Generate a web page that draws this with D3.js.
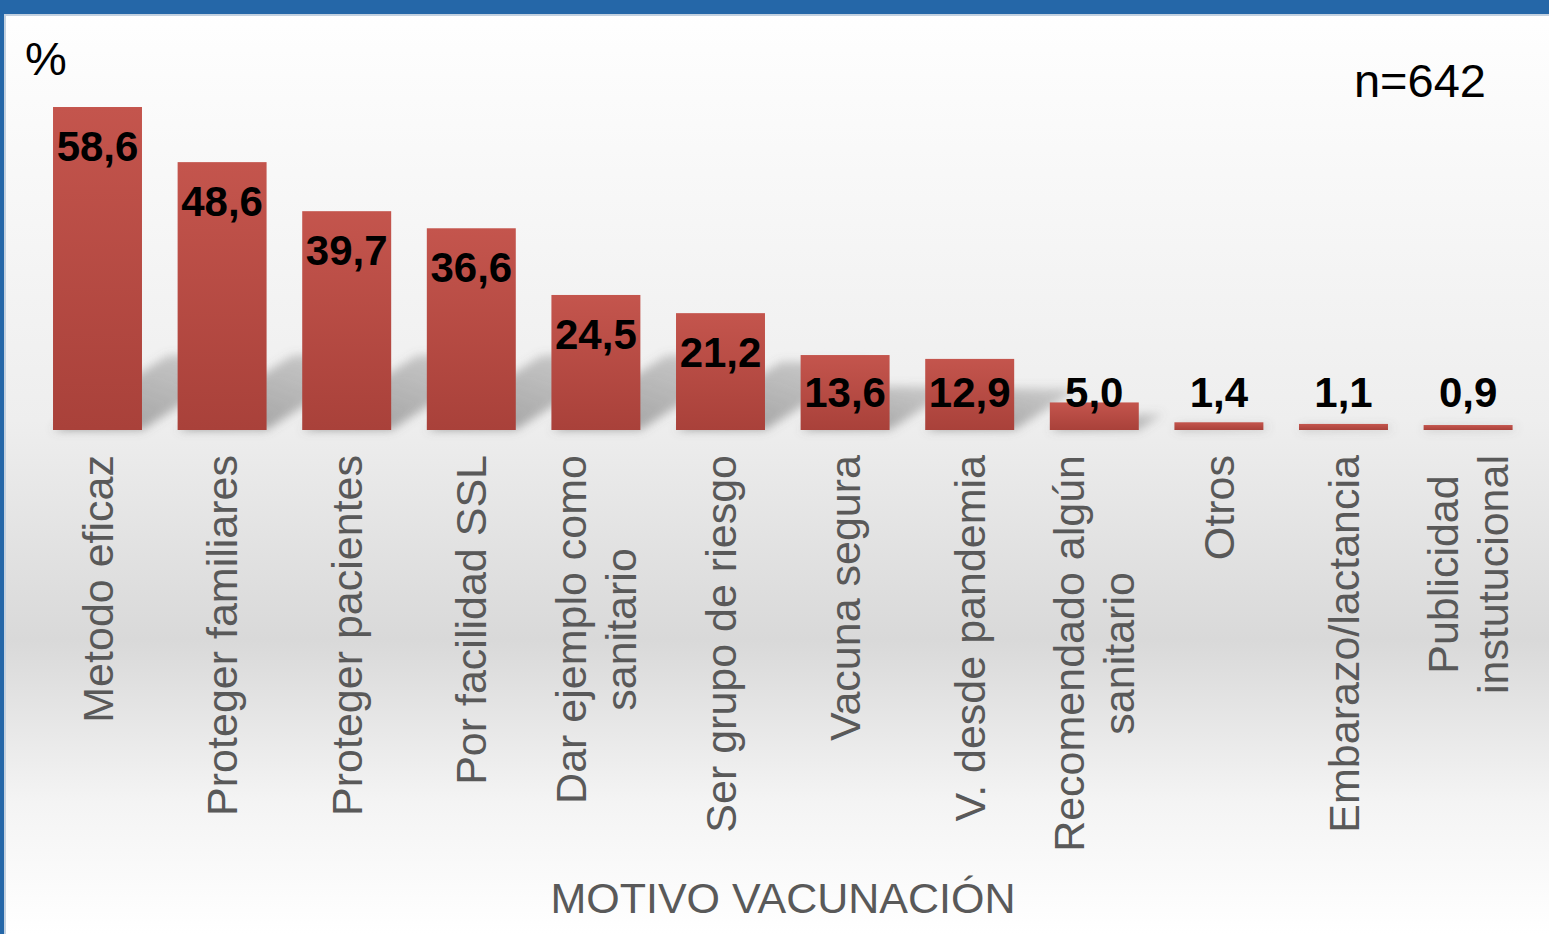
<!DOCTYPE html>
<html>
<head>
<meta charset="utf-8">
<script src="https://cdn.jsdelivr.net/npm/d3@7"></script>
<style>
  html, body { margin: 0; padding: 0; background: #fff; }
  svg { display: block; font-family: "Liberation Sans", Arial, sans-serif; }
</style>
</head>
<body>
<div id="chart"></div>
<script>
"use strict";
// motivos de vacunacion (n=642), % de respuestas
var categories = [
  "Metodo eficaz",
  "Proteger familiares",
  "Proteger pacientes",
  "Por facilidad SSL",
  "Dar ejemplo como\nsanitario",
  "Ser grupo de riesgo",
  "Vacuna segura",
  "V. desde pandemia",
  "Recomendado algún\nsanitario",
  "Otros",
  "Embarazo/lactancia",
  "Publicidad\ninstutucional"
];
var values = [58.6, 48.6, 39.7, 36.6, 24.5, 21.2, 13.6, 12.9, 5.0, 1.4, 1.1, 0.9];
var yTicks = [0, 60];
var axisTitle = "MOTIVO VACUNACIÓN";
var unitLabel = "%";
var sampleLabel = "n=642";

var W = 1549, H = 934;
var baseline = 430;

var svg = d3.select("#chart").append("svg")
    .attr("width", W)
    .attr("height", H);

var defs = svg.append("defs");

var bg = defs.append("linearGradient").attr("id", "bg")
    .attr("x1", 0).attr("y1", 0).attr("x2", 0).attr("y2", 1);
bg.append("stop").attr("offset", 0).attr("stop-color", "#ffffff");
bg.append("stop").attr("offset", 0.45).attr("stop-color", "#eeeeee");
bg.append("stop").attr("offset", 0.685).attr("stop-color", "#d9d9d9");
bg.append("stop").attr("offset", 0.86).attr("stop-color", "#f4f4f4");
bg.append("stop").attr("offset", 1).attr("stop-color", "#ffffff");

var barGrad = defs.append("linearGradient").attr("id", "bar")
    .attr("x1", 0).attr("y1", 0).attr("x2", 0).attr("y2", 1);
barGrad.append("stop").attr("offset", 0).attr("stop-color", "#c4554d");
barGrad.append("stop").attr("offset", 1).attr("stop-color", "#a9413a");

var shGrad = defs.append("linearGradient").attr("id", "sh")
    .attr("x1", 0).attr("y1", 1).attr("x2", 1).attr("y2", 0);
shGrad.append("stop").attr("offset", 0).attr("stop-color", "#6a6a6a").attr("stop-opacity", 0.62);
shGrad.append("stop").attr("offset", 1).attr("stop-color", "#6a6a6a").attr("stop-opacity", 0.25);

defs.append("filter").attr("id", "blur")
    .attr("x", "-30%").attr("y", "-30%").attr("width", "160%").attr("height", "160%")
  .append("feGaussianBlur").attr("stdDeviation", 5);

// background + frame
svg.append("rect").attr("x", 0).attr("y", 0).attr("width", W).attr("height", H)
    .attr("fill", "url(#bg)");
svg.append("rect").attr("x", 0).attr("y", 0).attr("width", W).attr("height", 14)
    .attr("fill", "#2567a8");
svg.append("rect").attr("x", 0).attr("y", 14).attr("width", W).attr("height", 2)
    .attr("fill", "#c3d1e0");
svg.append("rect").attr("x", 0).attr("y", 0).attr("width", 4).attr("height", H)
    .attr("fill", "#2567a8");
svg.append("rect").attr("x", 4).attr("y", 14).attr("width", 2).attr("height", H - 14)
    .attr("fill", "#c3d1e0");

var x = d3.scaleBand()
    .domain(categories)
    .range([35.2, 1530.4])
    .paddingInner(0.286)
    .paddingOuter(0.143);

var y = d3.scaleLinear()
    .domain(d3.extent(yTicks))
    .range([baseline, 99.3]);

var data = categories.map(function (c, i) {
    return { cat: c, value: values[i] };
});

// soft shadows behind the bars
svg.append("g").attr("filter", "url(#blur)")
  .selectAll("polygon")
  .data(data).enter()
  .append("polygon")
    .attr("fill", "url(#sh)")
    .attr("points", function (d) {
        var x0 = x(d.cat), x1 = x0 + x.bandwidth();
        var h = baseline - y(d.value);
        var L = Math.min(h * 0.9, 115);
        return [[x0, baseline], [x1, baseline], [x1 + L, baseline - 0.65 * L], [x0 + L, baseline - 0.65 * L]]
            .map(function (p) { return p.join(","); }).join(" ");
    });

svg.append("g").selectAll("rect")
  .data(data).enter()
  .append("rect")
    .attr("x", function (d) { return x(d.cat); })
    .attr("y", function (d) { return y(d.value); })
    .attr("width", x.bandwidth())
    .attr("height", function (d) { return baseline - y(d.value); })
    .attr("fill", "url(#bar)");

var fmt = d3.format(".1f");
svg.append("g").selectAll("text")
  .data(data).enter()
  .append("text")
    .attr("x", function (d) { return x(d.cat) + x.bandwidth() / 2; })
    .attr("y", function (d) { return Math.min(y(d.value) + 54, 407); })
    .attr("text-anchor", "middle")
    .attr("font-size", 42)
    .attr("font-weight", "bold")
    .attr("fill", "#000")
    .text(function (d) { return fmt(d.value).replace(".", ","); });

// rotated category labels
var labels = svg.append("g").selectAll("g")
  .data(data).enter()
  .append("g")
    .attr("transform", function (d) {
        return "translate(" + (x(d.cat) + x.bandwidth() / 2) + ",455) rotate(-90)";
    });

labels.each(function (d) {
    var g = d3.select(this);
    var lines = d.cat.split("\n");
    var n = lines.length;
    var texts = g.selectAll("text").data(lines).enter().append("text")
        .attr("y", function (l, i) { return (i - (n - 1) / 2) * 50; })
        .attr("dy", "0.35em")
        .attr("text-anchor", "middle")
        .attr("font-size", 43)
        .attr("fill", "#595959")
        .text(function (l) { return l; });
    var maxLen = 0;
    texts.each(function () { maxLen = Math.max(maxLen, this.getComputedTextLength()); });
    texts.attr("x", -maxLen / 2);
});

svg.append("text")
    .attr("x", 783)
    .attr("y", 913)
    .attr("text-anchor", "middle")
    .attr("font-size", 43)
    .attr("fill", "#595959")
    .text(axisTitle);

svg.append("text")
    .attr("x", 25)
    .attr("y", 75)
    .attr("font-size", 47)
    .attr("fill", "#000")
    .text(unitLabel);

svg.append("text")
    .attr("x", 1486)
    .attr("y", 97)
    .attr("text-anchor", "end")
    .attr("font-size", 47)
    .attr("fill", "#000")
    .text(sampleLabel);
</script>
</body>
</html>
